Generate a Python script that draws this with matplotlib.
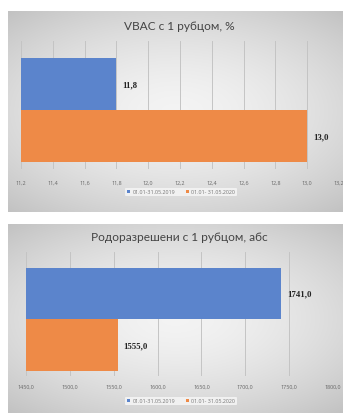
import matplotlib
matplotlib.use("Agg")
import matplotlib.pyplot as plt
import numpy as np
from matplotlib.patches import Patch

# ---- data ----
periods = ["01.01-31.05.2019", "01.01- 31.05.2020"]
vbac_values = [11.8, 13.0]
vbac_ticks = [11.2, 11.4, 11.6, 11.8, 12.0, 12.2, 12.4, 12.6, 12.8, 13.0, 13.2]
deliv_values = [1741.0, 1555.0]
deliv_ticks = [1450, 1500, 1550, 1600, 1650, 1700, 1750, 1800]
titles = ["VBAC с 1 рубцом, %", "Родоразрешени с 1 рубцом, абс"]
colors = ["#5b84cc", "#ee8a47"]

W, H = 343, 414
fig = plt.figure(figsize=(W / 100, H / 100), dpi=100)
fig.patch.set_facecolor("white")

def fx(px):
    return px / W

def fy(py):
    return 1 - py / H

def panel(top, bottom, left=8, right=343):
    ax = fig.add_axes([fx(left), fy(bottom), fx(right - left), (bottom - top) / H])
    ny, nx = 100, 200
    yy, xx = np.mgrid[-1:1:ny * 1j, -1:1:nx * 1j]
    r = np.sqrt((xx * 0.9) ** 2 + (yy * 1.0) ** 2)
    g = 0.955 - 0.12 * np.clip(r, 0, 1.4) ** 1.6
    img = np.dstack([g, g, g])
    ax.imshow(img, aspect="auto", extent=[0, 1, 0, 1], interpolation="bicubic")
    ax.set_xlim(0, 1)
    ax.set_ylim(0, 1)
    ax.axis("off")
    ax.set_zorder(0)

panel(12, 213)
panel(225, 414)

def chart(values, ticks, ax_left, ax_right, ax_top, ax_bottom, bar_top, bar_mid, bar_bot,
          title, title_y, tick_y, legend_y, label_fmt, xmin, xmax, title_size):
    ax = fig.add_axes([fx(ax_left), fy(ax_bottom), fx(ax_right - ax_left), (ax_bottom - ax_top) / H])
    ax.set_zorder(2)
    ax.patch.set_alpha(0)
    unit = (bar_mid - bar_top)
    ytop = 1.5 + (bar_top - ax_top) / unit
    ybot = -0.5 - (ax_bottom - bar_bot) / (bar_bot - bar_mid)
    ax.set_ylim(ybot, ytop)
    ax.set_xlim(xmin, xmax)
    ypos = [1, 0]
    for i in range(2):
        ax.barh(ypos[i], values[i] - xmin, left=xmin, height=1.0, color=colors[i], zorder=3)
        ax.text(values[i] + (xmax - xmin) * 0.018, ypos[i], label_fmt(values[i]),
                va="center", ha="left", fontsize=6.3, fontweight="bold",
                family="Liberation Serif", color="#222222", zorder=4)
    for t in ticks:
        ax.axvline(t, color="#c4c4c4", lw=0.7, zorder=1)
    for s in ax.spines.values():
        s.set_visible(False)
    ax.set_xticks([])
    ax.set_yticks([])
    for t in ticks:
        xp = ax_left + (t - xmin) / (xmax - xmin) * (ax_right - ax_left)
        lbl = (f"{t:.1f}").replace(".", ",")
        fig.text(fx(xp), fy(tick_y), lbl, ha="center", va="center", fontsize=3.9,
                 color="#666666", family="Open Sans", zorder=5)
    fig.text(fx(179), fy(title_y), title, ha="center", va="center", fontsize=title_size,
             color="#444444", family="Lato", zorder=5)
    handles = [Patch(facecolor=colors[i], label=periods[i]) for i in range(2)]
    leg = fig.legend(handles=handles, loc="center", bbox_to_anchor=(fx(181), fy(legend_y)),
                     ncol=2, fontsize=3.9, frameon=True, handlelength=0.6, handleheight=0.6,
                     handletextpad=0.4, columnspacing=2.0, borderpad=0.3,
                     labelcolor="#777777")
    leg.get_frame().set_facecolor("#f4f4f4")
    leg.get_frame().set_edgecolor("none")
    leg.get_frame().set_alpha(0.9)
    for tx in leg.get_texts():
        tx.set_family("Open Sans")
    return ax

fmt = lambda v: f"{v:.1f}".replace(".", ",")

chart(vbac_values, vbac_ticks, 21, 339, 42, 170, 59, 111, 163,
      titles[0], 27, 183, 193, fmt, vbac_ticks[0], vbac_ticks[-1], 8.6)
chart(deliv_values, deliv_ticks, 26, 333, 253, 377, 269, 321, 372,
      titles[1], 238, 387, 402, fmt, deliv_ticks[0], deliv_ticks[-1], 8.6)

fig.savefig("out.png", dpi=100)
